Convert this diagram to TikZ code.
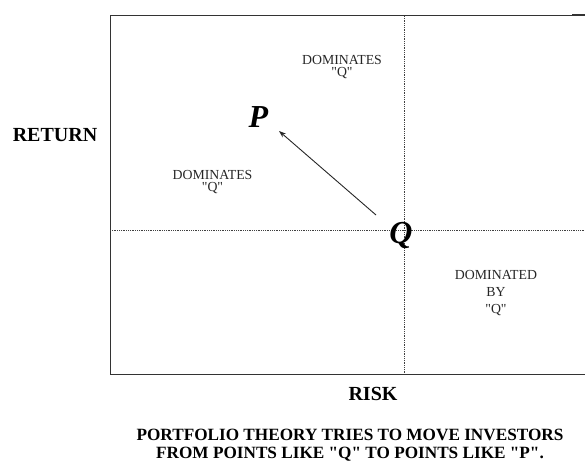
\documentclass[tikz,border=0pt]{standalone}
\usepackage{fontspec}
\setmainfont{Liberation Serif}[Ligatures=TeXOff]
\usetikzlibrary{arrows.meta}
\begin{document}
\begin{tikzpicture}[x=1pt,y=-1pt,
  frame/.style={line width=1pt, draw=black!80},
  guide/.style={densely dotted, line width=0.8pt, draw=black!75},
  zone/.style={inner sep=0pt, align=center, text=black!85, font=\fontsize{13.8}{12.5}\selectfont},
  axis/.style={inner sep=0pt, font=\fontsize{20}{22}\selectfont\bfseries},
  pt/.style={inner sep=0pt, font=\fontsize{32}{34}\selectfont\bfseries\itshape},
  arr/.style={-{Stealth[length=7pt,width=5pt]}, line width=0.9pt, draw=black!85}]
\useasboundingbox (0,0) rectangle (585,462);
% frame (open to the right edge)
\coordinate (tl) at (110,16);
\coordinate (bl) at (110,374);
\coordinate (tr) at (585,16);
\coordinate (br) at (585,374);
\draw[frame] (tr) -- (tl) -- (bl) -- (br);
\coordinate (tk1) at (572,15);
\coordinate (tk2) at (585,15);
\draw[line width=1.4pt, draw=black!80] (tk1) -- (tk2);
% dotted guides
\coordinate (vt) at (404,16);
\coordinate (vb) at (404,374);
\coordinate (hl) at (110,230);
\coordinate (hr) at (585,230);
\draw[guide] (vt) -- (vb);
\draw[guide] (hl) -- (hr);
% zone labels (base anchor = last line)
\node[zone, anchor=base] (z1) at (342,77) {DOMINATES\\"Q"};
\node[zone, anchor=base] (z2) at (212.5,192) {DOMINATES\\"Q"};
\node[zone, anchor=base, font=\fontsize{13.8}{17}\selectfont] (z3) at (496,313) {DOMINATED\\BY\\"Q"};
% points
\node[pt, anchor=base] (P) at (258.5,128) {P};
\node[pt, anchor=base] (Q) at (401,243) {Q};
\coordinate (qa) at (376,215);
\coordinate (pa) at (279,131);
\draw[arr] (qa) -- (pa);
% axis labels
\node[axis, anchor=base] (ret) at (55,142) {RETURN};
\node[axis, anchor=base] (risk) at (373,400) {RISK};
% caption
\node[inner sep=0pt, anchor=base, align=center, font=\fontsize{17.2}{18}\selectfont\bfseries] (cap) at (350,458)
  {PORTFOLIO THEORY TRIES TO MOVE INVESTORS\\FROM POINTS LIKE "Q" TO POINTS LIKE "P".};
\end{tikzpicture}
\end{document}
